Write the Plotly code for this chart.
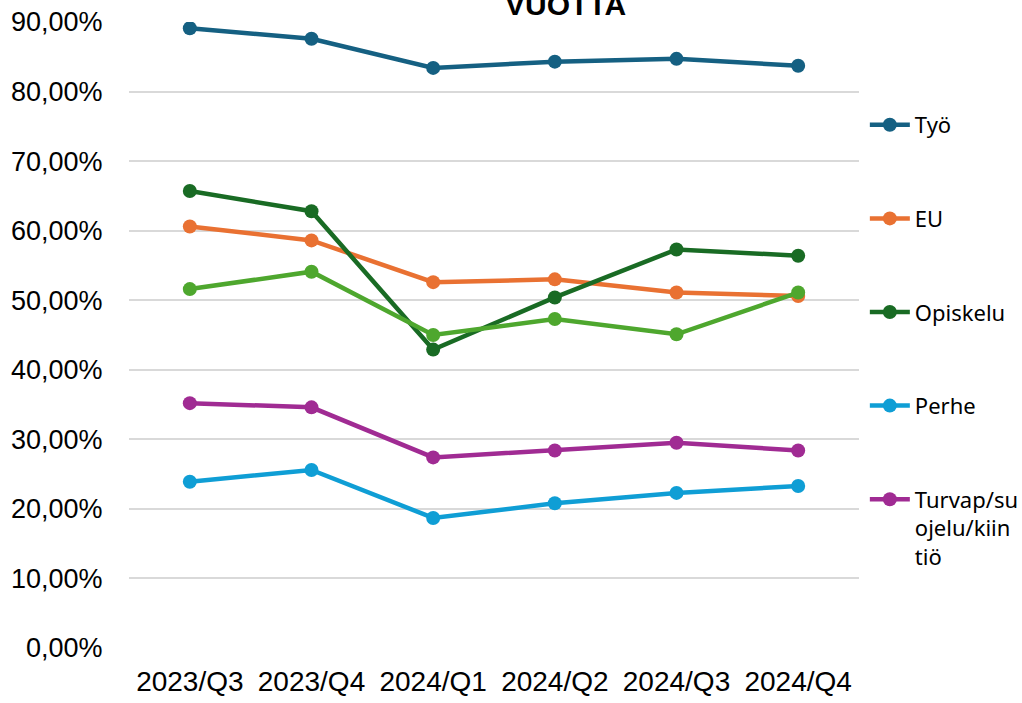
import plotly.graph_objects as go

categories = ["2023/Q3", "2023/Q4", "2024/Q1", "2024/Q2", "2024/Q3", "2024/Q4"]

tyo = [0.891, 0.876, 0.834, 0.843, 0.847, 0.837]
eu = [0.606, 0.586, 0.526, 0.530, 0.511, 0.506]
opiskelu = [0.657, 0.628, 0.429, 0.504, 0.573, 0.564]
perhe = [0.239, 0.256, 0.187, 0.208, 0.223, 0.233]
turvap = [0.352, 0.346, 0.274, 0.284, 0.295, 0.284]
muu = [0.516, 0.541, 0.450, 0.473, 0.451, 0.511]

series = [
    ("Työ", tyo, "#156082", True),
    ("EU", eu, "#E97132", True),
    ("Opiskelu", opiskelu, "#196B24", True),
    ("Perhe", perhe, "#0F9ED5", True),
    ("Turvap/su<br>ojelu/kiin<br>tiö", turvap, "#A02B93", True),
    ("Muu", muu, "#4EA72E", False),
]

fig = go.Figure()
for i, (name, vals, color, show) in enumerate(series):
    fig.add_trace(go.Scatter(
        x=categories, y=vals, name=name, mode="lines+markers",
        line=dict(color=color, width=4.5),
        marker=dict(color=color, size=14),
        legendgroup=f"g{i}", showlegend=show,
    ))

fig.update_layout(
    width=1022, height=703,
    margin=dict(l=129, r=163, t=22, b=55, autoexpand=False),
    paper_bgcolor="white", plot_bgcolor="white",
    separators=", ",
    showlegend=True,
    legend=dict(
        x=1.008, y=0.869, xanchor="left", yanchor="top",
        font=dict(family="Noto Sans, Open Sans, sans-serif", size=22, color="#000000"),
        tracegroupgap=62, valign="top", bgcolor="rgba(0,0,0,0)",
        itemwidth=40,
    ),
    xaxis=dict(
        range=[-0.5, 5.5],
        showgrid=False, showline=False, zeroline=False, automargin=False,
        ticks="outside", ticklen=8, tickcolor="rgba(0,0,0,0)",
        tickfont=dict(family="Liberation Sans, Arial, sans-serif", size=28, color="#000000"),
    ),
    yaxis=dict(
        range=[0, 0.9], tickvals=[i / 10 for i in range(10)], tickformat=".2%",
        showgrid=True, gridcolor="#D9D9D9", gridwidth=1.5,
        zeroline=False, showline=False, automargin=False,
        ticks="outside", ticklen=20, tickcolor="rgba(0,0,0,0)",
        tickfont=dict(family="Liberation Sans, Arial, sans-serif", size=27, color="#000000"),
    ),
    annotations=[dict(
        text="<b>VUOTTA</b>", xref="paper", yref="paper",
        x=(565 - 129) / 730, y=1 - 1 / 626, xanchor="center", yanchor="bottom",
        showarrow=False,
        font=dict(family="Liberation Sans, Arial, sans-serif", size=30, color="#000000"),
    )],
)

fig.write_html("out.html", config={"displayModeBar": False},
               post_script="document.body.style.margin='0';")
